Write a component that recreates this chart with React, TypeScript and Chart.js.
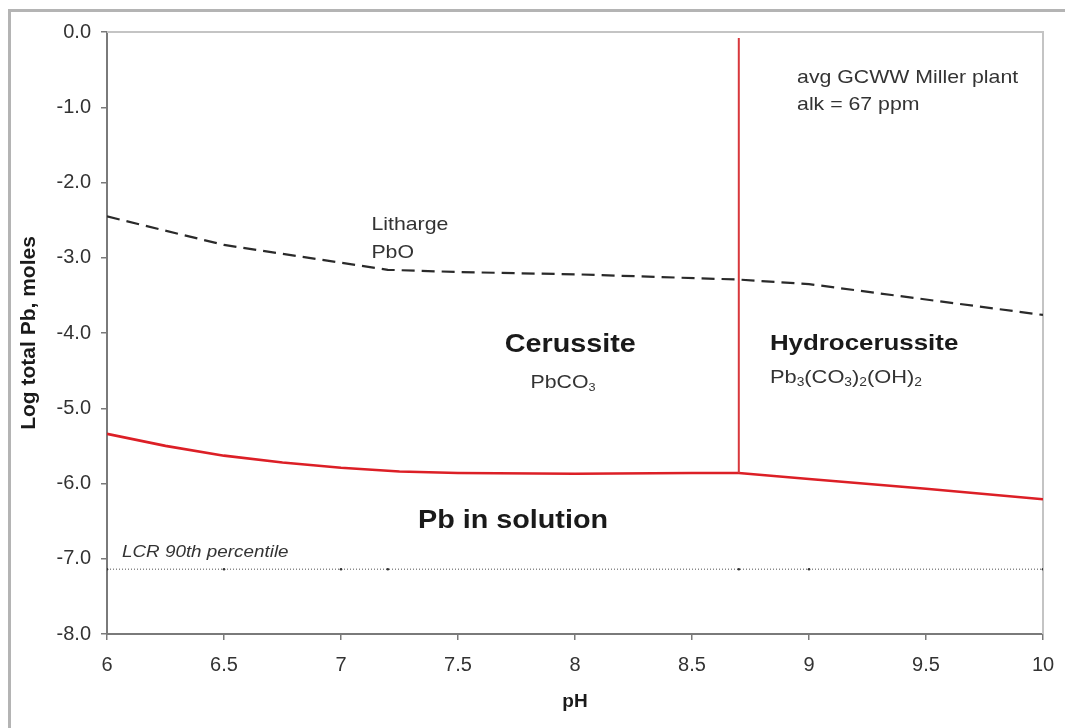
import React, { useEffect, useRef } from "react";
import { Chart, registerables } from "chart.js";

Chart.register(...registerables);

// ---- data ----
const phTicks = [6, 6.5, 7, 7.5, 8, 8.5, 9, 9.5, 10];
const logTicks = [0, -1, -2, -3, -4, -5, -6, -7, -8];

const lithargePH = [6, 6.5, 7.2, 7.5, 8, 8.7, 9, 10];
const lithargeLog = [-2.45, -2.83, -3.16, -3.19, -3.22, -3.29, -3.35, -3.76];

const solubilityPH = [6, 6.25, 6.5, 6.75, 7, 7.25, 7.5, 8, 8.5, 8.7, 9, 9.5, 10];
const solubilityLog = [-5.34, -5.5, -5.63, -5.72, -5.79, -5.84, -5.86, -5.87, -5.86, -5.86, -5.94, -6.07, -6.21];

const boundaryPH = [8.7, 8.7];
const boundaryLog = [-0.08, -5.86];

const lcrPH = [6, 6.5, 7, 7.2, 8.7, 9, 10];
const lcrLog = [-7.14, -7.14, -7.14, -7.14, -7.14, -7.14, -7.14];

const FONT = "'Liberation Sans', Arial, Helvetica, sans-serif";
const STRETCH = 1.15;

type Seg = { t: string; sub?: boolean };
type Note = {
  segs: Seg[];
  x: number;
  y: number;
  size: number;
  weight?: string;
  style?: string;
  align: "left" | "center";
  color: string;
};

const notes: Note[] = [
  { segs: [{ t: "Litharge" }], x: 7.13, y: -2.56, size: 18.5, align: "left", color: "#333" },
  { segs: [{ t: "PbO" }], x: 7.13, y: -2.93, size: 18.5, align: "left", color: "#333" },
  { segs: [{ t: "Cerussite" }], x: 7.98, y: -4.16, size: 25, weight: "bold", align: "center", color: "#1a1a1a" },
  { segs: [{ t: "PbCO" }, { t: "3", sub: true }], x: 7.81, y: -4.66, size: 18.5, align: "left", color: "#333" },
  { segs: [{ t: "Hydrocerussite" }], x: 8.833, y: -4.14, size: 22.5, weight: "bold", align: "left", color: "#1a1a1a" },
  {
    segs: [
      { t: "Pb" }, { t: "3", sub: true }, { t: "(CO" }, { t: "3", sub: true }, { t: ")" }, { t: "2", sub: true },
      { t: "(OH)" }, { t: "2", sub: true },
    ],
    x: 8.833, y: -4.59, size: 19, align: "left", color: "#333",
  },
  { segs: [{ t: "Pb in solution" }], x: 7.735, y: -6.5, size: 25, weight: "bold", align: "center", color: "#1a1a1a" },
  { segs: [{ t: "LCR 90th percentile" }], x: 6.064, y: -6.92, size: 16.4, style: "italic", align: "left", color: "#333" },
  { segs: [{ t: "avg GCWW Miller plant" }], x: 8.949, y: -0.61, size: 18.5, align: "left", color: "#333" },
  { segs: [{ t: "alk = 67 ppm" }], x: 8.949, y: -0.97, size: 18.5, align: "left", color: "#333" },
];

const pts = (xs: number[], ys: number[]) => xs.map((x, i) => ({ x, y: ys[i] }));

const notesPlugin = {
  id: "notes",
  beforeDatasetsDraw(chart: any) {
    const { ctx, chartArea } = chart;
    ctx.save();
    ctx.strokeStyle = "#c4c4c4";
    ctx.lineWidth = 2;
    ctx.beginPath();
    ctx.moveTo(chartArea.left, chartArea.top);
    ctx.lineTo(chartArea.right, chartArea.top);
    ctx.lineTo(chartArea.right, chartArea.bottom);
    ctx.stroke();
    ctx.restore();
  },
  afterDatasetsDraw(chart: any) {
    const { ctx } = chart;
    const xs = chart.scales.x;
    const ys = chart.scales.y;
    for (const n of notes) {
      ctx.save();
      ctx.textBaseline = "middle";
      ctx.textAlign = "left";
      const base = `${n.style || "normal"} ${n.weight || "normal"} ${n.size}px ${FONT}`;
      const subSize = Math.round(n.size * 0.62);
      const subFont = `${n.style || "normal"} ${n.weight || "normal"} ${subSize}px ${FONT}`;
      let total = 0;
      for (const s of n.segs) {
        ctx.font = s.sub ? subFont : base;
        total += ctx.measureText(s.t).width;
      }
      let px = xs.getPixelForValue(n.x);
      const py = ys.getPixelForValue(n.y);
      if (n.align === "center") px -= (total * STRETCH) / 2;
      ctx.translate(px, py);
      ctx.scale(STRETCH, 1);
      ctx.fillStyle = n.color;
      let cx = 0;
      for (const s of n.segs) {
        ctx.font = s.sub ? subFont : base;
        ctx.fillText(s.t, cx, s.sub ? n.size * 0.3 : 0);
        cx += ctx.measureText(s.t).width;
      }
      ctx.restore();
    }
  },
};

export default function App() {
  const ref = useRef<HTMLCanvasElement | null>(null);

  useEffect(() => {
    if (!ref.current) return;
    const chart = new Chart(ref.current, {
      type: "line",
      data: {
        datasets: [
          {
            label: "LCR 90th percentile",
            data: pts(lcrPH, lcrLog),
            borderColor: "#8a8a8a",
            borderWidth: 1.5,
            borderDash: [1, 2],
            pointRadius: 1.3,
            pointBackgroundColor: "#333",
            pointBorderWidth: 0,
            tension: 0,
          },
          {
            label: "Litharge",
            data: pts(lithargePH, lithargeLog),
            borderColor: "#2a2a2a",
            borderWidth: 2.2,
            borderDash: [13, 7],
            pointRadius: 0,
            tension: 0,
          },
          {
            label: "Boundary",
            data: pts(boundaryPH, boundaryLog),
            borderColor: "#d8383c",
            borderWidth: 2,
            pointRadius: 0,
            tension: 0,
          },
          {
            label: "Solubility",
            data: pts(solubilityPH, solubilityLog),
            borderColor: "#dc1f26",
            borderWidth: 2.6,
            pointRadius: 0,
            tension: 0,
          },
        ],
      },
      options: {
        animation: false,
        responsive: false,
        devicePixelRatio: 1,
        layout: { padding: { left: 8, top: 32, right: 22, bottom: 0 } },
        plugins: { legend: { display: false }, tooltip: { enabled: false } },
        scales: {
          x: {
            type: "linear",
            min: 6,
            max: 10,
            afterBuildTicks: (s: any) => {
              s.ticks = phTicks.map((v) => ({ value: v }));
            },
            afterFit: (s: any) => {
              s.height = 94;
              s.paddingLeft = 0;
              s.paddingRight = 0;
            },
            grid: { drawOnChartArea: false, drawTicks: true, tickLength: 6, color: "#7a7a7a", lineWidth: 1.5 },
            border: { color: "#7a7a7a", width: 2 },
            ticks: {
              font: { family: FONT, size: 20 },
              color: "#333",
              padding: 13,
              maxRotation: 0,
              autoSkip: false,
              callback: (v: any) => String(v),
            },
            title: {
              display: true,
              text: "pH",
              font: { family: FONT, size: 19, weight: "bold" },
              color: "#1a1a1a",
              padding: { top: 0, bottom: 15 },
            },
          },
          y: {
            type: "linear",
            min: -8,
            max: 0,
            afterBuildTicks: (s: any) => {
              s.ticks = logTicks.map((v) => ({ value: v }));
            },
            afterFit: (s: any) => {
              s.width = 99;
              s.paddingTop = 0;
              s.paddingBottom = 0;
            },
            grid: { drawOnChartArea: false, drawTicks: true, tickLength: 6, color: "#7a7a7a", lineWidth: 1.5 },
            border: { color: "#7a7a7a", width: 2 },
            ticks: {
              font: { family: FONT, size: 20 },
              color: "#333",
              padding: 10,
              autoSkip: false,
              callback: (v: any) => Number(v).toFixed(1),
            },
            title: {
              display: true,
              text: "Log total Pb, moles",
              font: { family: FONT, size: 21, weight: "bold" },
              color: "#1a1a1a",
              padding: { top: 9, bottom: 0 },
            },
          },
        },
      },
      plugins: [notesPlugin],
    } as any);
    return () => chart.destroy();
  }, []);

  return (
    <div style={{ position: "fixed", left: 0, top: 0, width: 1065, height: 728, overflow: "hidden", background: "#fff" }}>
      <div
        style={{
          position: "absolute",
          left: 8,
          top: 9,
          width: 1100,
          height: 760,
          borderTop: "3px solid #b4b4b4",
          borderLeft: "3px solid #b4b4b4",
          boxSizing: "border-box",
        }}
      />
      <canvas ref={ref} width={1065} height={728} style={{ position: "absolute", left: 0, top: 0, width: 1065, height: 728 }} />
    </div>
  );
}
